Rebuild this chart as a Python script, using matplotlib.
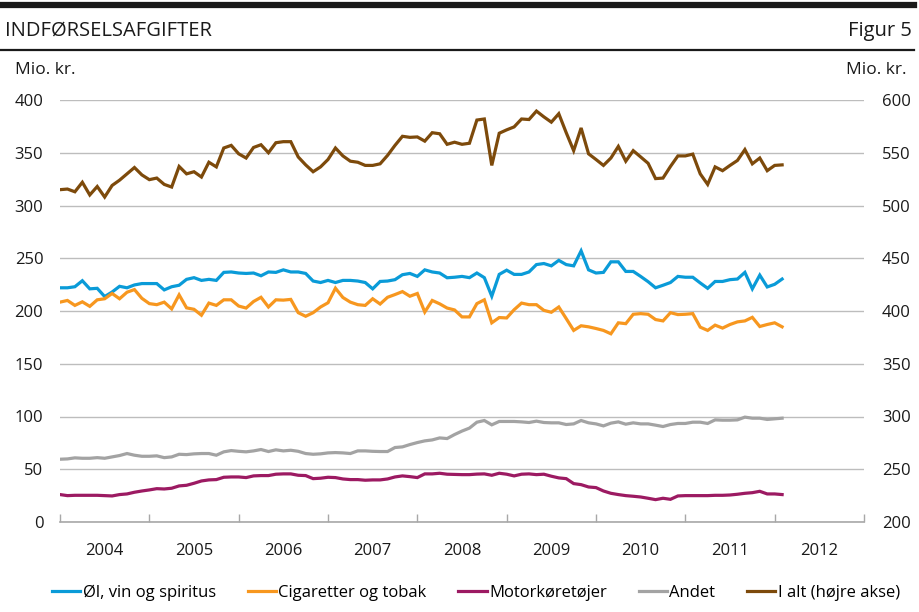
import matplotlib
matplotlib.use("Agg")
import matplotlib.pyplot as plt
from matplotlib.lines import Line2D

plt.rcParams['font.family'] = ['Open Sans', 'DejaVu Sans']

# monthly observations, first point = July 2003
ol_vin = [222, 222, 223, 228.7, 221, 221.5, 213.7, 218, 223.4, 222, 224.7, 226, 226, 226, 220, 223,
          224.4, 230, 231.6, 229, 230, 229, 236.6, 237, 236, 235.6, 236, 233.4, 237, 236.6, 239, 237,
          237, 235.6, 228.4, 227, 229, 227, 229, 229, 228.4, 227, 221, 228, 228.4, 229.7, 234.4, 235.6,
          232.8, 239, 237, 236, 231.5, 232, 232.8, 231.6, 236, 231.6, 214, 234.7, 238.7, 234.7, 234.7, 237,
          244, 245, 242.8, 248, 244, 242.8, 257, 239, 236, 236.6, 246.6, 246.6, 237.5, 237.5, 232.8, 227.8,
          222, 224.4, 227, 232.8, 232, 232, 226.6, 221.5, 228, 228, 229.7, 230.3, 236.6, 221, 234, 222.8,
          225.3, 230.3]
cigaretter = [208.4, 210, 205.3, 208.7, 204.4, 210.6, 211.6, 216.6, 211.6, 217.8, 220.3, 212, 207, 206, 208.4, 202,
              215.3, 203, 201.6, 196, 207.5, 205.3, 210.6, 210.6, 204.7, 202.8, 209, 213, 203.8, 210.6, 210.3, 211,
              198.4, 195, 198.4, 203.8, 207.8, 221.6, 212.8, 208.4, 206, 205.3, 211.6, 206.6, 213, 215.6, 218.4, 214,
              216.6, 199, 210, 206.8, 202.8, 201, 194.4, 194.4, 207, 210.6, 188.8, 193.8, 193.4, 201.2, 207.5, 206,
              206, 200.6, 198.8, 203.8, 192.8, 181.6, 186, 185, 183.4, 181.6, 178.4, 188.8, 188, 196.9, 197.5, 196.9,
              191.9, 190.6, 198.4, 196.6, 196.9, 197.5, 184.7, 181.6, 186.6, 183.8, 187.2, 189.7, 190.6, 194, 185.3, 187.2,
              188.8, 185]
motor = [26, 25, 25.3, 25.3, 25.3, 25.3, 25, 24.7, 26, 26.6, 28.2, 29.4, 30.4, 31.6, 31.3, 32,
         34.2, 34.8, 36.7, 38.9, 39.9, 40.2, 42.4, 42.7, 42.7, 42.1, 43.7, 44, 44, 45.3, 45.6, 45.6,
         44.3, 44, 41.1, 41.5, 42.4, 42.1, 40.8, 40.2, 40.2, 39.6, 39.9, 39.9, 40.8, 42.7, 43.7, 43,
         42.1, 45.6, 45.6, 46.2, 45.3, 45.1, 44.9, 44.9, 45.4, 45.6, 44.3, 46.2, 45.3, 43.7, 45.3, 45.6,
         44.9, 45.3, 43.4, 41.8, 41.1, 36.4, 35.4, 33.2, 32.6, 29.4, 27.2, 26, 25, 24.4, 23.7, 22.5,
         21.2, 22.5, 21.5, 24.7, 25, 25, 25, 25, 25.3, 25.3, 25.6, 26.3, 27.2, 27.8, 29.1, 26.6,
         26.6, 26]
andet = [59.5, 59.8, 60.8, 60.4, 60.4, 61, 60.4, 61.7, 63, 64.9, 63.3, 62.3, 62.3, 62.7, 61, 61.7,
         64.2, 63.9, 64.6, 64.9, 64.9, 63.3, 66.5, 67.7, 67, 66.5, 67.4, 68.7, 66.8, 68.4, 67.4, 68,
         67, 64.9, 64.2, 64.6, 65.5, 65.8, 65.5, 64.9, 67.4, 67.4, 67, 66.8, 66.8, 70.6, 71.2, 73.4,
         75.3, 76.9, 77.8, 79.7, 79.1, 82.9, 86.2, 89, 94.6, 96.2, 92.1, 95.3, 95.3, 95.3, 94.9, 94.3,
         95.6, 94.3, 94, 94, 92.4, 93, 96.2, 94, 93, 91.1, 93.7, 94.9, 92.7, 94, 93, 93,
         91.8, 90.5, 92.4, 93.4, 93.4, 94.6, 94.6, 93.4, 96.8, 96.5, 96.5, 96.8, 99.4, 98.4, 98.4, 97.2,
         97.8, 98.4]
i_alt = [515, 515.6, 513, 522, 510, 518, 508, 519, 524, 530, 536, 529, 524.5, 526, 520, 517.5,
         537, 530, 532, 527, 541, 536.6, 554.5, 557, 549, 545, 555, 557.6, 550, 559.5, 560.5, 560.5,
         546, 538.5, 532, 536.6, 543.6, 554.5, 547, 542, 541, 538, 538, 539.5, 547.5, 557, 565.6, 564.6,
         565, 561, 569, 568, 558, 560, 558, 559, 581, 582, 538, 568.5, 571.7, 574.5, 582, 581.5,
         589.5, 584, 579, 587, 569, 552, 573.5, 549, 543.6, 538, 545, 556, 542, 552, 546, 540,
         525.5, 526, 537, 547, 547, 548.7, 530, 520, 536.6, 533, 538, 542.7, 553, 539.5, 545, 533,
         538, 538.5]

years = ['2004', '2005', '2006', '2007', '2008', '2009', '2010', '2011', '2012']
labels = ['Øl, vin og spiritus', 'Cigaretter og tobak', 'Motorkøretøjer', 'Andet', 'I alt (højre akse)']
colors = ['#0a9bd8', '#f7971f', '#9c1a62', '#a3a3a3', '#7d4a0b']

months = list(range(len(i_alt)))

fig = plt.figure(figsize=(9.2, 6.12), dpi=100)
ax = fig.add_axes([60 / 920, 1 - 522 / 612, 804 / 920, 422 / 612])
ax2 = ax.twinx()

lw = 2.3
lines = []
for series, col in zip([ol_vin, cigaretter, motor, andet], colors[:4]):
    l, = ax.plot(months, series, color=col, lw=lw, solid_joinstyle='miter', zorder=3)
    lines.append(l)
l, = ax2.plot(months, i_alt, color=colors[4], lw=lw, solid_joinstyle='miter', zorder=3)
lines.append(l)

ax.set_xlim(0, 108)
ax.set_ylim(0, 400)
ax2.set_ylim(200, 600)
ax.set_yticks(range(0, 401, 50))
ax2.set_yticks(range(200, 601, 50))
ax.yaxis.grid(True, color='#bdbdbd', lw=1)
ax.set_axisbelow(True)

ax.set_xticks(range(0, 109, 12))
ax.set_xticklabels([])
ax.set_xticks(range(6, 108, 12), minor=True)
ax.set_xticklabels(years, minor=True)
ax.tick_params(axis='x', which='major', direction='in', length=6, color='#a8a8a8', width=1)
ax.tick_params(axis='x', which='minor', length=0, pad=15, labelsize=12, labelcolor='#1a1a1a')
ax.tick_params(axis='y', length=0, pad=12, labelsize=12, labelcolor='#1a1a1a')
ax2.tick_params(axis='y', length=0, pad=13, labelsize=12, labelcolor='#1a1a1a')

for a in (ax, ax2):
    for s in ['top', 'left', 'right', 'bottom']:
        a.spines[s].set_visible(False)
ax.spines['bottom'].set_visible(True)
ax.spines['bottom'].set_color('#a8a8a8')
ax.spines['bottom'].set_linewidth(1.2)

# header
fig.add_artist(Line2D([0, 914 / 920], [1 - 4.5 / 612] * 2, color='#1a1a1a', lw=4.5))
fig.add_artist(Line2D([0, 914 / 920], [1 - 50 / 612] * 2, color='#1a1a1a', lw=1.6))
fig.text(5 / 920, 1 - 31 / 612, 'INDFØRSELSAFGIFTER', fontsize=14.5, va='center', ha='left', color='#1a1a1a')
fig.text(912 / 920, 1 - 31 / 612, 'Figur 5', fontsize=14.5, va='center', ha='right', color='#1a1a1a')
fig.text(15 / 920, 1 - 70 / 612, 'Mio. kr.', fontsize=12.5, va='center', ha='left', color='#1a1a1a')
fig.text(907 / 920, 1 - 70 / 612, 'Mio. kr.', fontsize=12.5, va='center', ha='right', color='#1a1a1a')

fig.legend(lines, labels, loc='center', bbox_to_anchor=(476 / 920, 1 - 593 / 612), ncol=5,
           frameon=False, fontsize=12, handlelength=1.7, handletextpad=0.15, columnspacing=1.9)

fig.savefig('out.png', dpi=100)
